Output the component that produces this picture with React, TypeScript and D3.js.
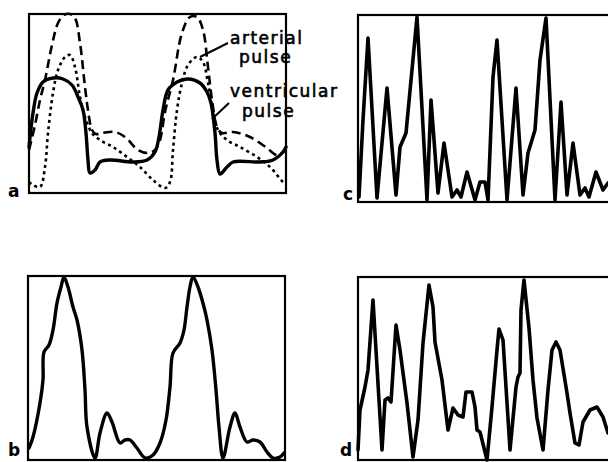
import React from "react";
import * as d3 from "d3";

// Panel a: three pulse traces (time offset, amplitude)
const aVentricularT = [0, 4, 8, 14, 24, 34, 43, 49, 54, 57, 59, 61, 66, 71, 81, 104, 118, 126, 130, 134, 139, 148, 159, 171, 178, 182, 186, 188, 191, 198, 204, 231, 244, 254, 257];
const aVentricularV = [46, 80, 100, 111, 115, 114, 108, 96, 83, 60, 33, 20, 23, 31, 33, 31, 33, 41, 56, 83, 103, 111, 114, 110, 101, 90, 60, 33, 19, 26, 31, 31, 33, 41, 46];

const aDashedT = [0, 6, 11, 16, 23, 29, 35, 41, 46, 51, 56, 59, 63, 67, 73, 86, 96, 109, 119, 126, 131, 136, 144, 153, 161, 168, 174, 179, 183, 188, 193, 204, 221, 238, 248, 257];
const aDashedV = [43, 68, 93, 113, 148, 170, 178, 179, 175, 150, 106, 83, 63, 59, 60, 61, 56, 43, 40, 43, 53, 81, 113, 160, 176, 176, 163, 126, 93, 66, 60, 61, 56, 45, 38, 43];

const aArterialT = [0, 4, 11, 16, 19, 24, 29, 36, 41, 46, 51, 56, 63, 71, 84, 98, 111, 124, 136, 141, 144, 148, 153, 159, 168, 174, 179, 184, 189, 198, 211, 228, 241, 254, 257];
const aArterialV = [11, 8, 6, 26, 60, 100, 123, 136, 138, 126, 96, 76, 60, 53, 46, 36, 26, 13, 5, 11, 43, 83, 110, 128, 136, 131, 110, 83, 63, 53, 46, 36, 26, 11, 9];

// Panel b
const bT = [1, 5, 12, 15, 16, 21, 25, 29, 33, 36, 40, 45, 49, 54, 57, 59, 67, 72, 79, 84, 92, 97, 102, 109, 117, 125, 132, 138, 142, 145, 152, 156, 159, 162, 165, 170, 176, 179, 184, 188, 191, 195, 202, 207, 212, 219, 225, 232, 239, 245, 252, 256];
const bV = [12, 23, 57, 80, 108, 115, 130, 157, 173, 183, 173, 153, 140, 110, 70, 33, 2, 27, 47, 38, 17, 20, 20, 12, 2, 5, 17, 40, 73, 107, 117, 130, 153, 173, 183, 173, 153, 140, 110, 70, 33, 2, 33, 47, 33, 18, 20, 18, 8, 2, 3, 7];

// Panel c
const cT = [1, 5, 10, 19, 29, 38, 42, 48, 59, 69, 73, 80, 86, 94, 99, 103, 109, 117, 122, 127, 130, 135, 139, 149, 158, 165, 170, 177, 182, 188, 197, 203, 209, 215, 222, 227, 231, 238, 245, 250];
const cV = [5, 82, 164, 4, 114, 7, 55, 69, 185, 2, 102, 9, 59, 5, 12, 5, 30, 2, 20, 20, 2, 125, 162, 2, 114, 7, 49, 72, 142, 184, 2, 100, 7, 59, 7, 14, 5, 30, 12, 19];

// Panel d
const dT = [0, 2, 7, 10, 15, 19, 24, 27, 30, 33, 38, 42, 49, 55, 60, 65, 71, 75, 77, 84, 90, 95, 100, 105, 108, 114, 117, 119, 122, 129, 134, 139, 141, 145, 148, 152, 158, 160, 162, 163, 166, 171, 175, 179, 185, 190, 194, 198, 202, 209, 212, 217, 221, 225, 232, 239, 245, 250];
const dV = [10, 50, 73, 90, 160, 93, 10, 60, 62, 58, 135, 110, 57, 3, 40, 117, 175, 153, 118, 80, 30, 52, 45, 43, 68, 68, 53, 30, 28, 0, 53, 110, 131, 120, 73, 10, 73, 83, 87, 150, 180, 132, 80, 42, 10, 70, 110, 118, 110, 67, 47, 17, 15, 38, 50, 53, 43, 27];

const panelLabels = ["a", "b", "c", "d"];

type Pt = [number, number];
const zip = (t: number[], v: number[]): Pt[] => t.map((x, i) => [x, v[i]]);

function Panel({ left, top, width, height, label, labelX, labelY, series, curve }: any) {
  const x = d3.scaleLinear().domain([0, 257]).range([left, left + width]);
  const y = d3.scaleLinear().domain([0, height]).range([top + height, top]);
  const line = d3.line<Pt>().x((d) => x(d[0])).y((d) => y(d[1])).curve(curve);
  return (
    <g>
      <rect x={left} y={top} width={width} height={height} fill="none" stroke="#000" strokeWidth={2.2} />
      {series.map((s: any, i: number) => (
        <path key={i} d={line(s.data) || ""} fill="none" stroke="#000" strokeWidth={s.w} strokeDasharray={s.dash} strokeLinejoin="round" strokeLinecap={s.cap || "round"} />
      ))}
      <text x={labelX} y={labelY} fontFamily="DejaVu Sans" fontWeight="bold" fontSize={17} fill="#000">{label}</text>
    </g>
  );
}

export default function App() {
  const smooth = d3.curveCatmullRom.alpha(0.5);
  return (
    <svg width={608} height={462} style={{ position: "absolute", left: 0, top: 0, background: "#fff" }}>
      <rect x={0} y={0} width={608} height={462} fill="#fff" />
      <Panel left={29} top={14} width={257} height={179} label={panelLabels[0]} labelX={8} labelY={197} curve={smooth}
        series={[
          { data: zip(aVentricularT, aVentricularV), w: 3.4 },
          { data: zip(aDashedT, aDashedV), w: 2.6, dash: "9 5", cap: "butt" },
          { data: zip(aArterialT, aArterialV), w: 2.6, dash: "3 3.5", cap: "butt" },
        ]} />
      <Panel left={28} top={276} width={257} height={184} label={panelLabels[1]} labelX={8} labelY={456} curve={smooth}
        series={[{ data: zip(bT, bV), w: 3.4 }]} />
      <Panel left={358} top={15} width={257} height={187} label={panelLabels[2]} labelX={343} labelY={200} curve={d3.curveLinear}
        series={[{ data: zip(cT, cV), w: 3.6 }]} />
      <Panel left={358} top={277} width={257} height={183} label={panelLabels[3]} labelX={340} labelY={456} curve={d3.curveLinear}
        series={[{ data: zip(dT, dV), w: 3.6 }]} />
      <line x1={228} y1={43} x2={200} y2={57} stroke="#000" strokeWidth={2} />
      <line x1={229} y1={103} x2={212} y2={119} stroke="#000" strokeWidth={2} />
      <g fontFamily="DejaVu Sans" fontSize={17} letterSpacing={1.5} fill="#000" stroke="#000" strokeWidth={0.6}>
        <text x={230} y={44}>arterial</text>
        <text x={239} y={63}>pulse</text>
        <text x={230} y={97}>ventricular</text>
        <text x={242} y={117}>pulse</text>
      </g>
    </svg>
  );
}
